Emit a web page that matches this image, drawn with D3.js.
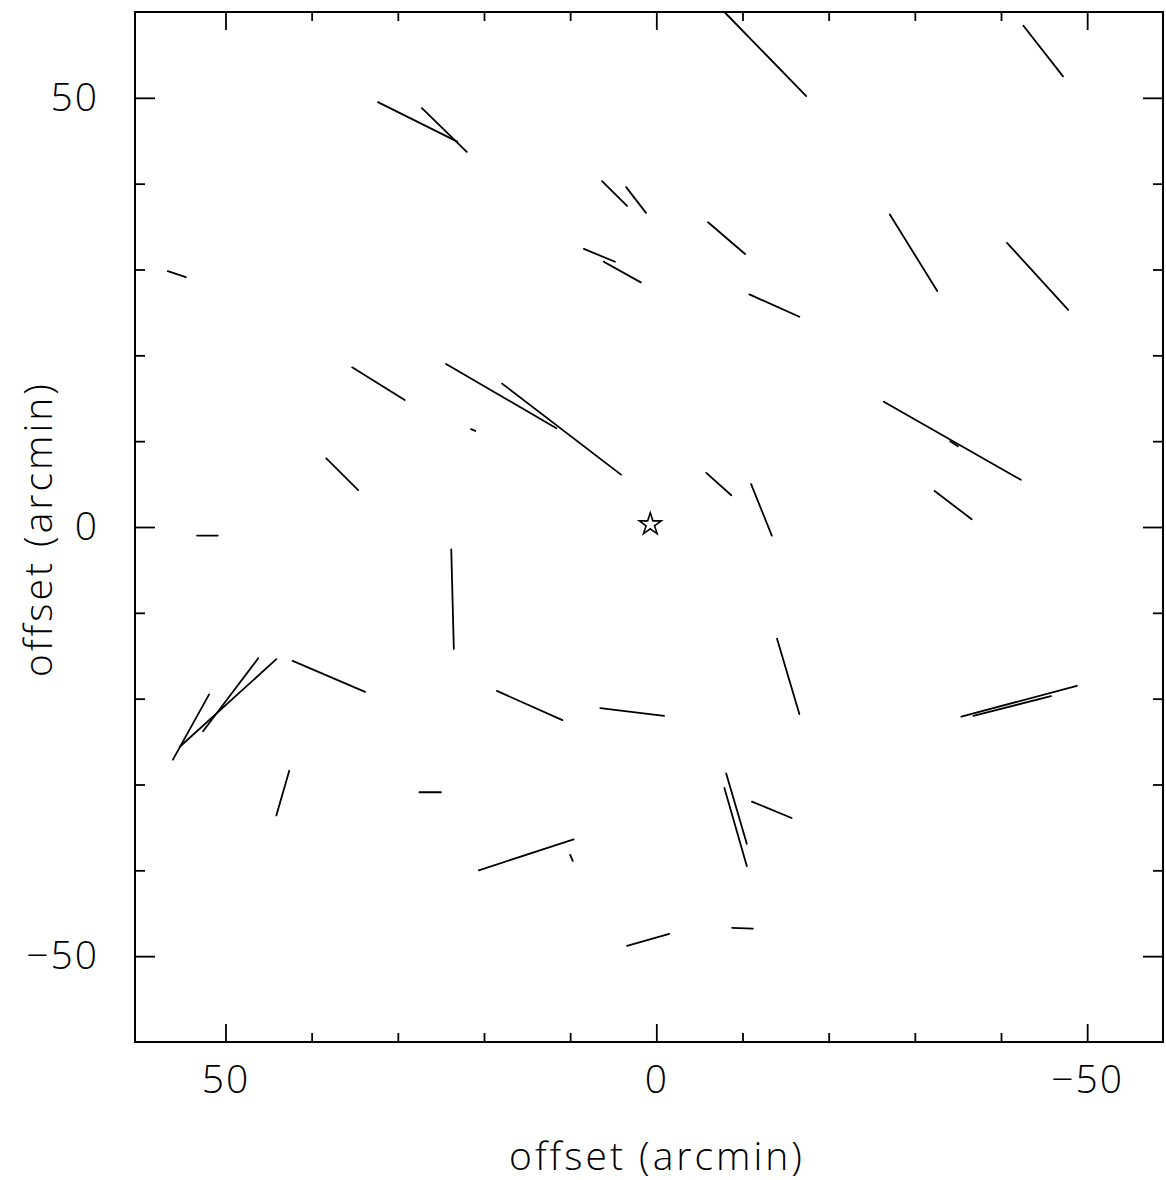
<!DOCTYPE html>
<html>
<head>
<meta charset="utf-8">
<script src="https://cdn.jsdelivr.net/npm/d3@7"></script>
<style>
  body { margin: 0; background: #fff; }
  text { font-family: "Open Sans", "DejaVu Sans", sans-serif; font-weight: 300; fill: #000; }
</style>
</head>
<body>
<svg width="1166" height="1180"></svg>
<script>
// vector segments, endpoints in arcmin (x offset grows to the left)
var xStart = [56.7, 53.3, -7.9, -42.6, 32.3, 27.2, 6.3, 3.5, -6.0, -27.1, -40.7, 8.4, 6.1, -10.8,
              35.3, 24.4, 17.9, 21.5, -26.4, -34.1, 38.3, -5.8, -11.0, -32.3, 23.8, 51.9, 46.2, 44.1,
              42.2, 18.5, 6.5, -14.0, -35.4, -36.8, 42.6, 27.5, -8.1, -7.9, -11.1, 20.6, 10.0, 3.4, -8.8];
var yStart = [29.8, -1.0, 60.0, 58.4, 49.5, 48.8, 40.3, 39.6, 35.5, 36.4, 33.1, 32.4, 30.9, 27.1,
              18.6, 19.0, 16.7, 11.4, 14.6, 10.0, 8.0, 6.3, 5.0, 4.2, -2.6, -19.5, -15.3, -15.4,
              -15.6, -19.1, -21.1, -13.0, -22.1, -22.0, -28.4, -30.9, -28.7, -30.4, -32.0, -40.0, -38.2, -48.8, -46.7];
var xEnd = [54.6, 50.9, -17.4, -47.2, 23.1, 22.0, 3.4, 1.2, -10.3, -32.6, -47.8, 4.8, 1.8, -16.6,
            29.2, 11.6, 4.1, 21.0, -42.3, -35.0, 34.6, -8.7, -13.4, -36.6, 23.5, 56.1, 52.6, 55.3,
            33.8, 10.9, -0.9, -16.6, -48.8, -45.8, 44.1, 25.0, -10.5, -10.5, -15.7, 9.6, 9.7, -1.5, -11.2];
var yEnd = [29.1, -1.0, 50.2, 52.5, 44.9, 43.7, 37.4, 36.6, 31.8, 27.5, 25.3, 30.9, 28.5, 24.5,
            14.8, 11.5, 6.1, 11.2, 5.5, 9.4, 4.3, 3.7, -1.0, 0.9, -14.2, -27.1, -23.8, -25.6,
            -19.2, -22.5, -22.0, -21.8, -18.5, -19.7, -33.6, -30.9, -36.9, -39.5, -33.9, -36.4, -38.9, -47.4, -46.8];

var starX = [0.7];
var starY = [0.3];

var minorTicks = [-40, -30, -20, -10, 10, 20, 30, 40];
var majorTicks = [50, 0, -50];

var svg = d3.select("svg");

var x = d3.scaleLinear().domain([60.5, -58.8]).range([135, 1163]);
var y = d3.scaleLinear().domain([60, -60]).range([12, 1042]);

var segs = xStart.map(function(d, i) {
  return { x1: d, y1: yStart[i], x2: xEnd[i], y2: yEnd[i] };
});

function fmt(d) { return d < 0 ? "\u2212" + Math.abs(d) : "" + d; }

function styleAxis(g) {
  g.select(".domain").remove();
  g.selectAll("line").attr("stroke", "#000").attr("stroke-width", 1.8);
  g.selectAll("text").attr("font-size", 39).attr("letter-spacing", 2).attr("fill", "#000");
}

// bottom
svg.append("g").attr("transform", "translate(0," + y(-60) + ")")
  .call(d3.axisBottom(x).tickValues(minorTicks).tickSize(-9).tickSizeOuter(0).tickFormat(""))
  .call(styleAxis);
svg.append("g").attr("transform", "translate(0," + y(-60) + ")")
  .call(d3.axisBottom(x).tickValues(majorTicks).tickSize(-18).tickSizeOuter(0).tickPadding(23).tickFormat(fmt))
  .call(styleAxis);
// top
svg.append("g").attr("transform", "translate(0," + y(60) + ")")
  .call(d3.axisTop(x).tickValues(minorTicks).tickSize(-9).tickSizeOuter(0).tickFormat(""))
  .call(styleAxis);
svg.append("g").attr("transform", "translate(0," + y(60) + ")")
  .call(d3.axisTop(x).tickValues(majorTicks).tickSize(-18).tickSizeOuter(0).tickFormat(""))
  .call(styleAxis);
// left
svg.append("g").attr("transform", "translate(" + x(60.5) + ",0)")
  .call(d3.axisLeft(y).tickValues(minorTicks).tickSize(-10).tickSizeOuter(0).tickFormat(""))
  .call(styleAxis);
svg.append("g").attr("transform", "translate(" + x(60.5) + ",0)")
  .call(d3.axisLeft(y).tickValues(majorTicks).tickSize(-20).tickSizeOuter(0).tickPadding(36).tickFormat(fmt))
  .call(styleAxis);
// right
svg.append("g").attr("transform", "translate(" + x(-58.8) + ",0)")
  .call(d3.axisRight(y).tickValues(minorTicks).tickSize(-10).tickSizeOuter(0).tickFormat(""))
  .call(styleAxis);
svg.append("g").attr("transform", "translate(" + x(-58.8) + ",0)")
  .call(d3.axisRight(y).tickValues(majorTicks).tickSize(-20).tickSizeOuter(0).tickFormat(""))
  .call(styleAxis);

// frame
svg.append("rect")
  .attr("x", x(60.5)).attr("y", y(60))
  .attr("width", x(-58.8) - x(60.5)).attr("height", y(-60) - y(60))
  .attr("fill", "none").attr("stroke", "#000").attr("stroke-width", 2);

// vectors
svg.append("g").selectAll("line")
  .data(segs)
  .enter().append("line")
  .attr("x1", function(d) { return x(d.x1); })
  .attr("y1", function(d) { return y(d.y1); })
  .attr("x2", function(d) { return x(d.x2); })
  .attr("y2", function(d) { return y(d.y2); })
  .attr("stroke", "#000")
  .attr("stroke-width", 1.8)
  .attr("stroke-linecap", "round");

// star at centre
svg.append("g").selectAll("path")
  .data(starX)
  .enter().append("path")
  .attr("transform", function(d, i) { return "translate(" + x(d) + "," + y(starY[i]) + ")"; })
  .attr("d", d3.symbol().type(d3.symbolStar).size(150))
  .attr("fill", "#fff")
  .attr("stroke", "#000")
  .attr("stroke-width", 1.6);

// axis titles
svg.append("text")
  .attr("x", 657).attr("y", 1170)
  .attr("text-anchor", "middle")
  .attr("font-size", 39)
  .attr("letter-spacing", 3)
  .text("offset (arcmin)");
svg.append("text")
  .attr("transform", "translate(52,529) rotate(-90)")
  .attr("text-anchor", "middle")
  .attr("font-size", 39)
  .attr("letter-spacing", 3)
  .text("offset (arcmin)");
</script>
</body>
</html>
